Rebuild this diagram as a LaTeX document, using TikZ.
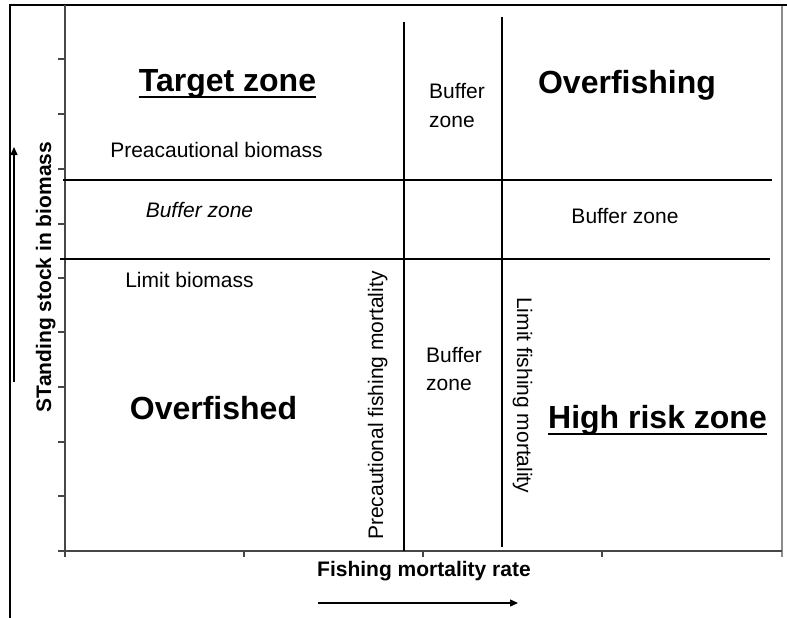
\documentclass[tikz,border=0pt]{standalone}
\usepackage{fontspec}
\setmainfont{Liberation Sans}
\usetikzlibrary{arrows.meta}
\begin{document}
\begin{tikzpicture}[x=1pt,y=-1pt,
  lbl/.style={inner sep=0pt,font=\fontsize{21}{25}\selectfont},
  zonebig/.style={inner sep=0pt,font=\fontsize{32}{38}\selectfont\bfseries},
  axlbl/.style={inner sep=0pt,font=\fontsize{21}{25}\selectfont\bfseries},
  axisline/.style={draw=black!72,line width=1.6pt},
  tickline/.style={draw=black!72,line width=1.2pt},
  zoneline/.style={draw=black,line width=1.3pt},
  frameline/.style={draw=black,line width=2pt},
  dirarrow/.style={draw=black,line width=1.3pt,-{Triangle[length=8pt,width=7pt]}},
  uline/.style={draw=black,line width=2.8pt}]
\useasboundingbox (0,0) rectangle (787,618);
% outer frame
\coordinate (fbl) at (10,618);
\coordinate (ftl) at (10,5);
\coordinate (ftr) at (787,5);
\draw[frameline] (fbl) -- (ftl) -- (ftr);
% plot area right border
\coordinate (prt) at (782,6);
\coordinate (prb) at (782,557);
\draw[draw=black!45,line width=2pt] (prt) -- (prb);
% axes
\coordinate (ytop) at (65,5);
\coordinate (origin) at (65,551);
\coordinate (xend) at (782,551);
\draw[axisline] (ytop) -- (65,557);
\draw[axisline] (58,551) -- (xend);
% y ticks
\foreach \yy in {59,114,169,224,278,332,387,442,496,551}
  \draw[tickline] (58,\yy) -- (65,\yy);
% x ticks
\foreach \xx in {65,244,423,602}
  \draw[tickline] (\xx,551) -- (\xx,557);
% zone lines
\coordinate (h1a) at (63,180);
\coordinate (h1b) at (772,180);
\coordinate (h2a) at (60,259);
\coordinate (h2b) at (770,259);
\coordinate (v1a) at (404,22);
\coordinate (v1b) at (404,551);
\coordinate (v2a) at (502,17);
\coordinate (v2b) at (502,547);
\draw[zoneline] (h1a) -- (h1b);
\draw[zoneline] (h2a) -- (h2b);
\draw[zoneline] (v1a) -- (v1b);
\draw[zoneline] (v2a) -- (v2b);
% big zone labels
\node[zonebig,anchor=base] (tz) at (227.5,92) {Target zone};
\draw[uline] ([yshift=-5pt]tz.base west) -- ([yshift=-5pt]tz.base east);
\node[zonebig,anchor=base] (ofg) at (627,93.5) {Overfishing};
\node[zonebig,anchor=base] (ofd) at (213.5,419) {Overfished};
\node[zonebig,anchor=base] (hr) at (657.5,428) {High risk zone};
\draw[uline] ([yshift=-6pt]hr.base west) -- ([yshift=-6pt]hr.base east);
% small labels
\node[lbl,anchor=base] (pb) at (216.5,157) {Preacautional biomass};
\node[lbl,anchor=base] (bzl) at (199.5,217) {\itshape Buffer zone};
\node[lbl,anchor=base] (bzr) at (625,223) {Buffer zone};
\node[lbl,anchor=base] (lb) at (189.5,287) {Limit biomass};
\node[lbl,anchor=base west] (bt1) at (429,99) {Buffer};
\node[lbl,anchor=base west] (bt2) at (429,127) {zone};
\node[lbl,anchor=base west] (bb1) at (426,362) {Buffer};
\node[lbl,anchor=base west] (bb2) at (426,390) {zone};
\node[lbl,anchor=base west,rotate=90] (pfm) at (383,540) {Precautional fishing mortality};
\node[lbl,anchor=base west,rotate=-90] (lfm) at (517,297) {Limit fishing mortality};
% axis labels
\node[axlbl,anchor=base,rotate=90] (ylab) at (51,277) {STanding stock in biomass};
\node[axlbl,anchor=base] (xlab) at (424,576) {Fishing mortality rate};
% direction arrows
\coordinate (ua1) at (14,382);
\coordinate (ua2) at (14,147);
\coordinate (ra1) at (318,603);
\coordinate (ra2) at (518,603);
\draw[dirarrow] (ua1) -- (ua2);
\draw[dirarrow] (ra1) -- (ra2);
\end{tikzpicture}
\end{document}
